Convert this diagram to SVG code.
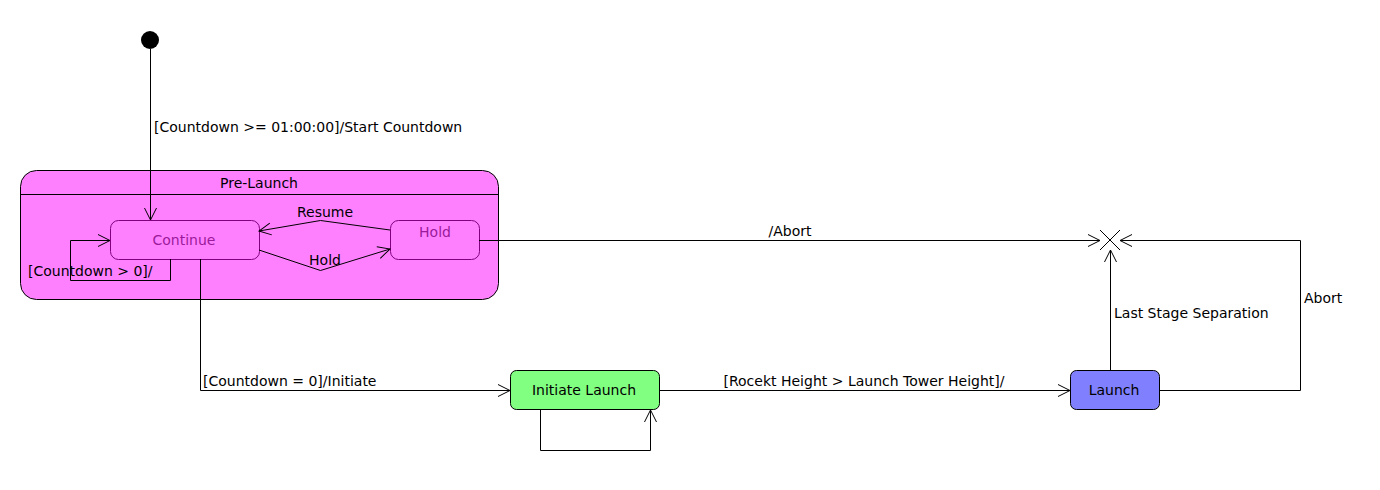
<svg xmlns="http://www.w3.org/2000/svg" width="1380" height="490" viewBox="0 0 1380 490">
<style>
text{font-family:"DejaVu Sans",sans-serif;font-size:14px;fill:#000}
.st{stroke:#000;stroke-width:1}
.inner{fill:#ff80ff;stroke:#800080;stroke-width:1}
.inner-t{fill:#9a1a9a;text-anchor:middle}
.c{fill:none;stroke:#000;stroke-width:1}
.mid{text-anchor:middle}
</style>
<defs>
<marker id="a" viewBox="0 0 14 14" refX="13" refY="7" markerWidth="14" markerHeight="14" markerUnits="userSpaceOnUse" orient="auto">
<path d="M1,1 L13,7 L1,13" fill="none" stroke="#000" stroke-width="1"/>
</marker>
</defs>
<rect width="1380" height="490" fill="#fff"/>
<g id="initial"><circle cx="150" cy="40" r="9" fill="#000"/></g>
<g id="prelaunch">
<rect x="20.5" y="170.5" width="478" height="129" rx="16" fill="#ff80ff" stroke="#000"/>
<line x1="20.5" y1="194.5" x2="498.5" y2="194.5" class="st"/>
<text x="259" y="188" class="mid">Pre-Launch</text>
</g>
<g id="continue">
<rect x="110.5" y="220.5" width="149" height="39" rx="8" class="inner"/>
<text x="184" y="245" class="inner-t">Continue</text>
</g>
<g id="hold">
<rect x="390.5" y="220.5" width="89" height="39" rx="8" class="inner"/>
<text x="435" y="237" class="inner-t">Hold</text>
</g>
<g id="initiate">
<rect x="510.5" y="370.5" width="149" height="39" rx="6" fill="#80ff80" stroke="#000"/>
<text x="584" y="395" class="mid">Initiate Launch</text>
</g>
<g id="launch">
<rect x="1070.5" y="370.5" width="89" height="39" rx="6" fill="#8080ff" stroke="#000"/>
<text x="1114" y="395" class="mid">Launch</text>
</g>
<g id="terminate">
<path d="M1100,230 L1120,250 M1120,230 L1100,250" class="c"/>
</g>
<g id="connectors">
<path d="M150.5,49 L150.5,220" class="c" marker-end="url(#a)"/>
<text x="154" y="132">[Countdown &gt;= 01:00:00]/Start Countdown</text>
<path d="M390,230 L320.5,220.5 L259,231" class="c" marker-end="url(#a)"/>
<text x="325" y="217" class="mid">Resume</text>
<path d="M259,250 L320.5,270.5 L390,249" class="c" marker-end="url(#a)"/>
<text x="325" y="265" class="mid">Hold</text>
<path d="M170.5,259 L170.5,280.5 L70.5,280.5 L70.5,240.5 L110,240.5" class="c" marker-end="url(#a)"/>
<text x="28" y="276">[Countdown &gt; 0]/</text>
<path d="M200.5,259 L200.5,390.5 L510,390.5" class="c" marker-end="url(#a)"/>
<text x="203" y="386">[Countdown = 0]/Initiate</text>
<path d="M540.5,409 L540.5,450.5 L650.5,450.5 L650.5,410" class="c" marker-end="url(#a)"/>
<path d="M659,390.5 L1070,390.5" class="c" marker-end="url(#a)"/>
<text x="864" y="386" class="mid">[Rocekt Height &gt; Launch Tower Height]/</text>
<path d="M479,240.5 L1100,240.5" class="c" marker-end="url(#a)"/>
<text x="790" y="236" class="mid">/Abort</text>
<path d="M1110.5,370 L1110.5,250" class="c" marker-end="url(#a)"/>
<text x="1114" y="318">Last Stage Separation</text>
<path d="M1159,390.5 L1300.5,390.5 L1300.5,240.5 L1120,240.5" class="c" marker-end="url(#a)"/>
<text x="1304" y="303">Abort</text>
</g>
</svg>
